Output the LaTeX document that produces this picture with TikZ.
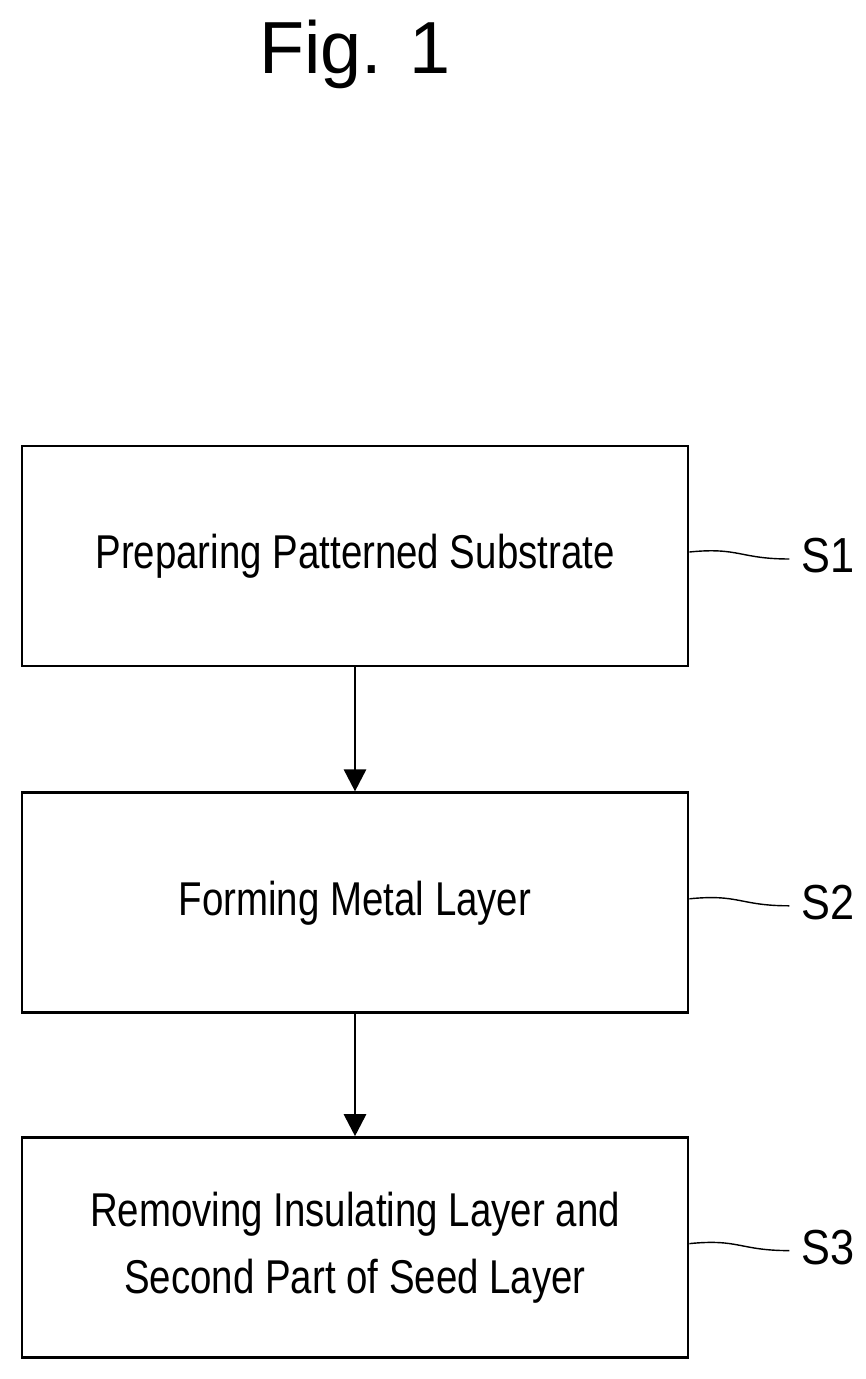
\documentclass[tikz,border=0pt]{standalone}
\usepackage{fontspec}
\setmainfont{Liberation Sans}
\usetikzlibrary{arrows.meta, positioning}
\tikzset{
  stepbox/.style={draw, thick, minimum width=6.66cm, minimum height=2.2cm, align=center, font=\fontsize{13.5}{19}\selectfont},
  flow/.style={thick, -{Triangle[length=2.2mm, width=2.2mm]}},
  lead/.style={thin}
}
\begin{document}
\begin{tikzpicture}
	\useasboundingbox (0,0) rectangle (8.66,13.79);
	\node[font=\fontsize{21}{24}\selectfont] (title) at (3.55,13.25) {Fig. 1};

	\node[stepbox] (s1) at (3.55,8.23) {\raisebox{-0.08cm}{\scalebox{0.81}[1]{Preparing Patterned Substrate}}};
	\node[stepbox, below=1.24cm of s1] (s2) {\raisebox{-0.08cm}{\scalebox{0.81}[1]{Forming Metal Layer}}};
	\node[stepbox, below=1.22cm of s2] (s3) {\scalebox{0.81}[1]{Removing Insulating Layer and}\\\scalebox{0.81}[1]{Second Part of Seed Layer}};

	\draw[flow] (s1) -- (s2);
	\draw[flow] (s2) -- (s3);

	% step labels
	\foreach \s/\n in {s1/S1, s2/S2, s3/S3} {
		\coordinate (\s w) at ([xshift=1.0cm, yshift=-0.03cm]\s.east);
		\draw[lead] ([yshift=0.04cm]\s.east) .. controls +(0.5,0.05) and +(-0.5,0) .. (\s w);
		\node[anchor=west, font=\fontsize{14}{17}\selectfont, inner sep=1pt] (\s l) at ([xshift=0.08cm, yshift=0.03cm]\s w) {\scalebox{0.88}[1]{\n}};
	}
\end{tikzpicture}
\end{document}
